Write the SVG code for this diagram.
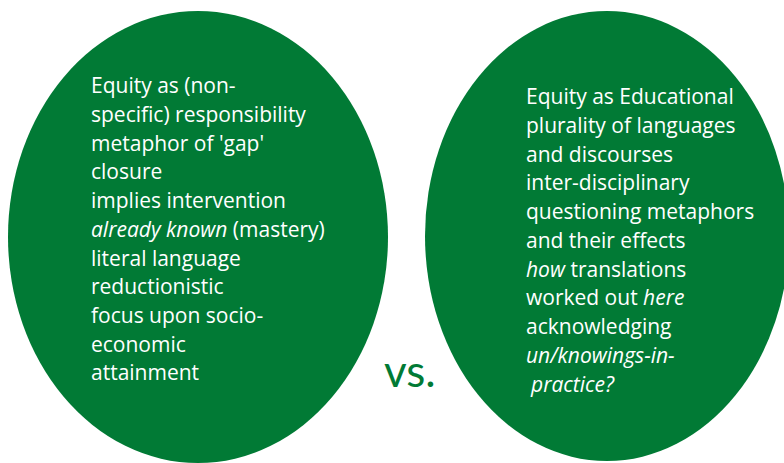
<svg xmlns="http://www.w3.org/2000/svg" width="784" height="463" viewBox="0 0 784 463">
  <style>
    .oval { fill: #017a35; }
    .t { font-family: "Open Sans", Lato, "Liberation Sans", sans-serif; font-size: 21px; fill: #ffffff; }
    .i { font-style: italic; }
    .vs { font-family: Lato, "Open Sans", "Liberation Sans", sans-serif; font-size: 44px; fill: #017a35; }
  </style>
  <rect width="784" height="463" fill="#ffffff"/>
  <g id="left">
    <ellipse class="oval" cx="198" cy="237" rx="190" ry="226"/>
    <text class="t">
      <tspan x="91" y="93.3">Equity as (non-</tspan>
      <tspan x="91" y="122">specific) responsibility</tspan>
      <tspan x="91" y="150.7">metaphor of 'gap'</tspan>
      <tspan x="91" y="179.4">closure</tspan>
      <tspan x="91" y="208.1">implies intervention</tspan>
      <tspan x="91" y="236.8"><tspan class="i">already known</tspan> (mastery)</tspan>
      <tspan x="91" y="265.5">literal language</tspan>
      <tspan x="91" y="294.2">reductionistic</tspan>
      <tspan x="91" y="322.9">focus upon socio-</tspan>
      <tspan x="91" y="351.6">economic</tspan>
      <tspan x="91" y="380.3">attainment</tspan>
    </text>
  </g>
  <g id="right">
    <ellipse class="oval" cx="607" cy="236" rx="182" ry="225"/>
    <text class="t">
      <tspan x="526" y="104">Equity as Educational</tspan>
      <tspan x="526" y="132.75">plurality of languages</tspan>
      <tspan x="526" y="161.5">and discourses</tspan>
      <tspan x="526" y="190.25">inter-disciplinary</tspan>
      <tspan x="526" y="219">questioning metaphors</tspan>
      <tspan x="526" y="247.75">and their effects</tspan>
      <tspan x="526" y="276.5"><tspan class="i">how</tspan> translations</tspan>
      <tspan x="526" y="305.25">worked out <tspan class="i">here</tspan></tspan>
      <tspan x="526" y="334">acknowledging</tspan>
      <tspan x="526" y="362.75" class="i">un/knowings-in-</tspan>
      <tspan x="531" y="391.5" class="i">practice?</tspan>
    </text>
  </g>
  <g id="vs">
    <text class="vs" x="384" y="387">vs.</text>
  </g>
</svg>
